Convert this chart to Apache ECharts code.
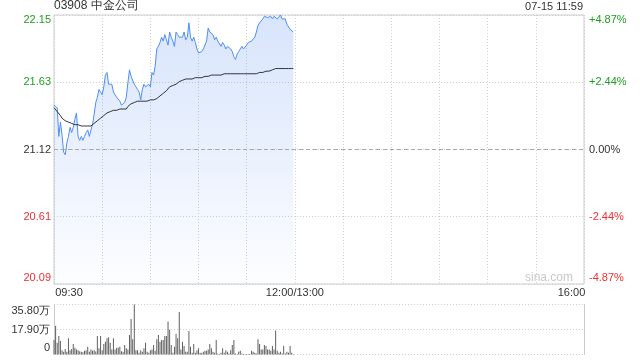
<!DOCTYPE html>
<html><head><meta charset="utf-8">
<script src="https://cdn.jsdelivr.net/npm/echarts@6/dist/echarts.min.js"></script>
<style>html,body{margin:0;padding:0;background:#fff}#c{width:640px;height:360px}</style>
</head><body><div id="c"></div>
<script>
const stockTitle = '03908 中金公司';
const timeStamp = '07-15 11:59';
const prevClose = 21.12;
const priceMin = 20.09, priceMax = 22.15;
const priceTicks = [20.09, 20.605, 21.12, 21.635, 22.15];
const priceTickLabels = ['20.09', '20.61', '21.12', '21.63', '22.15'];
const pctMin = -4.87, pctMax = 4.87;
const pctTicks = [-4.87, -2.435, 0, 2.435, 4.87];
const pctTickLabels = ['-4.87%', '-2.44%', '0.00%', '+2.44%', '+4.87%'];
const volMax = 35.8;
const volTicks = [0, 17.9, 35.8];
const volTickLabels = ['0', '17.90万', '35.80万'];
const minutesTotal = 330;
const timeTickValues = [0, 150, 330];
const timeTickLabels = ['09:30', '12:00/13:00', '16:00'];

const price = [
21.46,21.46,21.44,21.22,21.33,21.23,21.10,21.08,21.17,21.22,
21.29,21.25,21.29,21.35,21.40,21.22,21.19,21.22,21.19,21.22,
21.25,21.27,21.22,21.27,21.31,21.39,21.48,21.52,21.58,21.56,
21.54,21.60,21.69,21.71,21.62,21.62,21.62,21.56,21.56,21.52,
21.52,21.49,21.46,21.45,21.48,21.52,21.63,21.73,21.68,21.69,
21.62,21.60,21.58,21.56,21.50,21.58,21.62,21.60,21.61,21.62,
21.60,21.71,21.69,21.76,21.89,21.91,21.94,21.98,21.95,22.00,
21.96,21.92,22.02,21.98,21.95,21.91,22.02,22.00,21.98,21.98,
21.98,22.02,21.96,21.98,22.09,21.98,21.95,21.98,21.94,21.89,
21.86,21.87,21.87,21.89,21.90,21.95,22.05,22.02,22.02,22.00,
21.96,21.98,21.95,21.96,21.91,21.94,21.92,21.89,21.91,21.91,
21.89,21.87,21.83,21.81,21.85,21.87,21.89,21.91,21.89,21.89,
21.92,21.94,21.94,21.95,21.96,21.98,22.02,22.07,22.09,22.09,
22.12,22.14,22.15,22.13,22.12,22.14,22.12,22.14,22.14,22.12,
22.13,22.15,22.12,22.11,22.12,22.08,22.09,22.04,22.05,22.02
];
const avgPrice = [
21.44,21.43,21.41,21.40,21.38,21.36,21.35,21.34,21.33,21.33,
21.32,21.32,21.32,21.31,21.31,21.31,21.30,21.30,21.30,21.30,
21.30,21.30,21.30,21.30,21.31,21.32,21.33,21.34,21.35,21.36,
21.37,21.38,21.39,21.40,21.41,21.41,21.42,21.42,21.42,21.42,
21.42,21.43,21.43,21.43,21.43,21.43,21.45,21.46,21.47,21.48,
21.48,21.48,21.49,21.49,21.49,21.49,21.49,21.49,21.49,21.49,
21.50,21.50,21.50,21.51,21.51,21.52,21.53,21.54,21.55,21.56,
21.57,21.58,21.60,21.60,21.61,21.61,21.62,21.63,21.64,21.65,
21.65,21.65,21.66,21.66,21.66,21.66,21.66,21.67,21.67,21.67,
21.67,21.67,21.67,21.68,21.68,21.68,21.68,21.68,21.69,21.69,
21.69,21.69,21.69,21.69,21.69,21.69,21.70,21.70,21.70,21.70,
21.70,21.70,21.70,21.70,21.70,21.70,21.70,21.70,21.70,21.70,
21.70,21.70,21.70,21.70,21.70,21.70,21.70,21.71,21.71,21.71,
21.71,21.72,21.72,21.72,21.72,21.73,21.73,21.73,21.74,21.74,
21.74,21.74,21.74,21.74,21.74,21.74,21.74,21.74,21.74,21.74
];
const volume = [
10.4,20.6,8.5,13.3,9.7,3.1,2.0,3.9,2.0,11.6,
3.1,3.9,7.5,4.8,3.6,3.1,2.4,2.0,1.6,2.7,
3.1,5.6,2.0,3.6,2.7,3.1,2.2,13.3,4.4,13.3,
3.1,7.5,9.2,11.6,12.3,8.5,3.6,11.6,3.6,4.8,
4.8,5.6,2.4,2.0,6.8,4.4,3.6,14.0,25.4,10.9,
35.8,3.1,3.1,1.2,3.1,2.0,4.4,8.5,2.0,1.2,
3.1,3.6,6.8,2.7,10.9,14.0,9.2,10.4,10.4,13.3,
13.3,23.7,17.7,
6.8,1.2,5.6,14.8,11.6,30.5,3.6,9.2,6.0,2.0,
2.0,16.9,5.6,1.2,7.5,1.2,3.1,4.4,1.2,1.0,
2.0,2.7,2.7,3.6,7.5,4.4,2.0,1.2,10.4,0.7,
0.3,1.2,4.4,1.2,3.1,2.0,0.7,3.1,6.8,10.4,
0.7,0.3,2.0,2.7,0.7,0.3,0.3,0.3,0.3,0.3,
2.7,2.0,1.2,0.7,10.9,7.5,3.6,3.6,6.8,6.0,
3.6,3.6,2.7,6.0,3.6,17.2,2.7,1.2,2.0,0.7,
6.0,0.7,2.0,1.2,6.0,1.2,0.3
];

const FONT = 'Liberation Sans, Arial, sans-serif';
const GREEN = '#1f9e1f', RED = '#ee3030', DARK = '#333333';
function findIdx(arr, v) { let b = 0; for (let i = 1; i < arr.length; i++) if (Math.abs(arr[i] - v) < Math.abs(arr[b] - v)) b = i; return b; }
function tok(base, extra) { return Object.assign({ fontSize: 11, fontFamily: FONT, color: base }, extra || {}); }

const priceCls = ['rb', 'r', 'n', 'g', 'gt'];
const richPrice = {
  rb: tok(RED, { padding: [0, 0, 12, 0] }), r: tok(RED), n: tok(DARK),
  g: tok(GREEN), gt: tok(GREEN, { padding: [9, 0, 0, 0] })
};
const volCls = ['b', 'n', 't'];
const richVol = { b: tok(DARK, { padding: [0, 0, 13, 0] }), n: tok(DARK), t: tok(DARK, { padding: [12, 0, 0, 0] }) };
const timeCls = ['l', 'm', 'rr'];
const richTime = { l: tok(DARK, { padding: [0, 0, 0, 30] }), m: tok(DARK), rr: tok(DARK, { padding: [0, 25, 0, 0] }) };

const chart = echarts.init(document.getElementById('c'), null, { renderer: 'canvas' });
chart.setOption({
  animation: false,
  backgroundColor: '#fff',
  textStyle: { fontFamily: FONT },
  title: [
    { text: stockTitle, left: 54, top: 0, padding: 0, textStyle: { fontSize: 12, fontWeight: 'normal', color: DARK, fontFamily: FONT } },
    { text: timeStamp, right: 57, top: 1, padding: 0, textStyle: { fontSize: 11, fontWeight: 'normal', color: DARK, fontFamily: FONT } }
  ],
  graphic: [
    { type: 'text', right: 67, top: 272, style: { text: 'sina.com', fill: '#c8c8c8', font: '12px ' + FONT } }
  ],
  grid: [
    { left: 54, right: 56, top: 15, height: 269, show: true, borderColor: '#cccccc', borderWidth: 1 },
    { left: 54, right: 56, top: 304.5, height: 50 }
  ],
  xAxis: [
    {
      gridIndex: 0, type: 'value', min: 0, max: minutesTotal, interval: 30,
      axisLine: { show: false }, axisTick: { show: false },
      splitLine: { show: true, lineStyle: { color: '#cfcfcf', type: [1, 2], width: 1 } },
      axisLabel: {
        customValues: timeTickValues, margin: 3,
        formatter: v => { const k = findIdx(timeTickValues, v); return '{' + timeCls[k] + '|' + timeTickLabels[k] + '}'; },
        rich: richTime
      }
    },
    {
      gridIndex: 1, type: 'value', min: 0, max: minutesTotal,
      axisLine: { show: false }, axisTick: { show: false }, axisLabel: { show: false }, splitLine: { show: false }
    }
  ],
  yAxis: [
    {
      gridIndex: 0, type: 'value', min: priceMin, max: priceMax, position: 'left',
      axisLine: { show: false }, axisTick: { show: false, customValues: priceTicks },
      splitLine: { show: true, lineStyle: { color: '#cfcfcf', type: [1, 2] } },
      axisLabel: {
        customValues: priceTicks, margin: 3,
        formatter: v => { const k = findIdx(priceTicks, v); return '{' + priceCls[k] + '|' + priceTickLabels[k] + '}'; },
        rich: richPrice
      }
    },
    {
      gridIndex: 0, type: 'value', min: pctMin, max: pctMax, position: 'right',
      axisLine: { show: false }, axisTick: { show: false, customValues: pctTicks }, splitLine: { show: false },
      axisLabel: {
        customValues: pctTicks, margin: 5,
        formatter: v => { const k = findIdx(pctTicks, v); return '{' + priceCls[k] + '|' + pctTickLabels[k] + '}'; },
        rich: richPrice
      }
    },
    {
      gridIndex: 1, type: 'value', min: 0, max: volMax, position: 'left',
      axisLine: { show: true, lineStyle: { color: '#cccccc' } }, axisTick: { show: false, customValues: volTicks },
      splitLine: { show: true, lineStyle: { color: '#cfcfcf', type: [1, 2] } },
      axisLabel: {
        customValues: volTicks, margin: 4,
        formatter: v => { const k = findIdx(volTicks, v); return '{' + volCls[k] + '|' + volTickLabels[k] + '}'; },
        rich: richVol
      }
    },
    {
      gridIndex: 1, type: 'value', min: 0, max: volMax, position: 'right',
      axisLine: { show: true, lineStyle: { color: '#cccccc' } }, axisTick: { show: false }, axisLabel: { show: false }, splitLine: { show: false }
    }
  ],
  series: [
    {
      type: 'line', xAxisIndex: 0, yAxisIndex: 0, showSymbol: false, symbol: 'none',
      data: price.map((p, i) => [i, p]),
      lineStyle: { color: '#4f8ef2', width: 1 },
      areaStyle: {
        origin: 'start',
        color: new echarts.graphic.LinearGradient(0, 0, 0, 1, [
          { offset: 0, color: 'rgba(70,130,240,0.30)' },
          { offset: 1, color: 'rgba(70,130,240,0.02)' }
        ])
      },
      markLine: {
        silent: true, symbol: 'none', label: { show: false },
        lineStyle: { color: '#a8a8a8', type: [4, 3], width: 1 },
        data: [{ yAxis: prevClose }]
      },
      z: 3
    },
    {
      type: 'line', xAxisIndex: 0, yAxisIndex: 0, showSymbol: false, symbol: 'none',
      data: avgPrice.map((p, i) => [i, p]),
      lineStyle: { color: '#2e3440', width: 1 }, z: 4
    },
    {
      type: 'bar', xAxisIndex: 1, yAxisIndex: 2, barWidth: 1,
      data: volume.map((v, i) => [i, v]),
      itemStyle: { color: '#606060' }
    }
  ]
});
</script></body></html>
